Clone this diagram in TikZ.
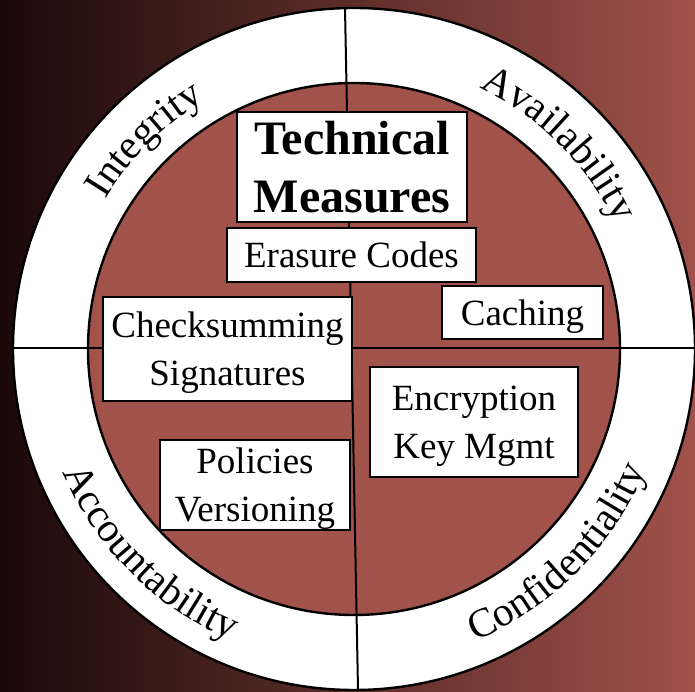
\documentclass[tikz,border=0pt]{standalone}
\usepackage{fontspec}
\setmainfont{Liberation Serif}
\usetikzlibrary{decorations.text}
\definecolor{bgleft}{RGB}{26,9,8}
\definecolor{bgright}{RGB}{160,81,74}
\definecolor{innerred}{RGB}{161,82,74}
\newcommand\ringfont{\fontsize{41}{49}\selectfont}
\begin{document}
\begin{tikzpicture}[x=1pt,y=1pt,
  box/.style={draw=black, line width=2.6pt, fill=white, inner sep=0pt, align=center, text depth=0pt, font=\fontsize{37}{48}\selectfont},
  ringtext/.style={decorate, decoration={text along path, text align=center, text={#1}}},
  divider/.style={draw=black, line width=2pt},
  rim/.style={draw=black, line width=2.4pt}]
\useasboundingbox (0,0) rectangle (695,692);
\shade[left color=bgleft, right color=bgright] (0,0) rectangle (695,692);
\coordinate (C) at (354,343);
\path[rim, fill=white] (C) circle[radius=341];
\path[rim, fill=innerred] (C) circle[radius=266];
\coordinate (vtop) at (345,684);
\coordinate (vbot) at (358,2);
\coordinate (hl) at (13,343.5);
\coordinate (hr) at (695,343.5);
\draw[divider] (vtop) -- (vbot);
\draw[divider] (hl) -- (hr);
% ring labels
\path[shift={(C)}, ringtext={|\ringfont|Integrity}] (170:290) arc[start angle=170, end angle=100, radius=290];
\path[shift={(C)}, ringtext={|\ringfont|Availability}] (80:290) arc[start angle=80, end angle=10, radius=290];
\path[shift={(C)}, ringtext={|\ringfont|Accountability}] (185:316) arc[start angle=185, end angle=265, radius=316];
\path[shift={(C)}, ringtext={|\ringfont|Confidentiality}] (275:316) arc[start angle=275, end angle=355, radius=316];
% boxes
\node[box, minimum width=230pt, minimum height=110pt, font=\fontsize{48}{58}\selectfont\bfseries] (tm) at (352,525) {Technical\\Measures};
\node[box, minimum width=249pt, minimum height=54pt] (erasure) at (351.5,437) {Erasure Codes};
\node[box, minimum width=161pt, minimum height=53pt] (caching) at (522.5,379.5) {Caching};
\node[box, minimum width=249pt, minimum height=104pt] (checksum) at (227.5,343) {Checksumming\\Signatures};
\node[box, minimum width=208pt, minimum height=110pt] (encrypt) at (474,270) {Encryption\\Key Mgmt};
\node[box, minimum width=190pt, minimum height=90pt] (policies) at (255,207) {Policies\\Versioning};
\end{tikzpicture}
\end{document}
